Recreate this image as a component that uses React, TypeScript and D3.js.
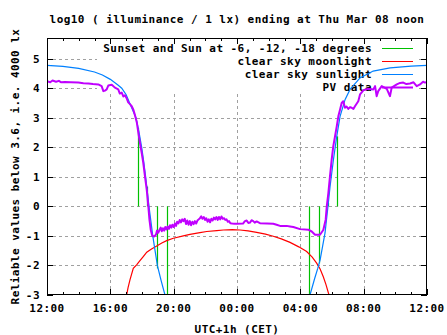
import React from "react";
import * as d3 from "d3";

// ---------- data (hours after 12:00 on the previous day, log10 lux) ----------
const xTickLabels = ["12:00", "16:00", "20:00", "00:00", "04:00", "08:00", "12:00"];
const xTickHours = [0, 4, 8, 12, 16, 20, 24];
const yTickValues = [-3, -2, -1, 0, 1, 2, 3, 4, 5];

const legendLabels = [
  "Sunset and Sun at -6, -12, -18 degrees",
  "clear sky moonlight",
  "clear sky sunlight",
  "PV data",
];
const seriesColors = ["#00c000", "#ff0000", "#0080ff", "#c000ff"];

// sunset / twilight markers: [hour, value reached from 0]
const sunEvents: [number, number][] = [
  [5.77, 2.66], [6.3, 0.67], [6.93, -2.1], [7.56, -3.3],
  [16.57, -3.3], [17.2, -1.93], [17.77, 0.12], [18.34, 2.37],
];

const moonData: [number, number][] = [
  [5.03, -3], [5.12, -2.75], [5.24, -2.49], [5.45, -2.1], [5.66, -1.98], [5.87, -1.84],
  [6.08, -1.7], [6.3, -1.55], [6.6, -1.44], [6.93, -1.34], [7.25, -1.24], [7.56, -1.16],
  [7.98, -1.08], [8.61, -1.0], [9.03, -0.95], [9.66, -0.89], [10.09, -0.85], [10.72, -0.82],
  [11.14, -0.8], [11.7, -0.79], [12.19, -0.8], [12.7, -0.83], [13.24, -0.88], [13.8, -0.94],
  [14.29, -1.01], [14.8, -1.1], [15.35, -1.22], [15.9, -1.37], [16.4, -1.53], [16.75, -1.72],
  [17.03, -1.92], [17.25, -2.12], [17.45, -2.38], [17.62, -2.65], [17.81, -3],
];

const sunData: [number, number][] = [
  [0, 4.77], [1, 4.74], [2, 4.67], [3, 4.55], [3.5, 4.45], [4, 4.3], [4.5, 4.1],
  [4.72, 4.0], [5, 3.78], [5.3, 3.4], [5.62, 3.0], [5.8, 2.55], [5.98, 2.0], [6.1, 1.55],
  [6.23, 1.0], [6.44, 0], [6.68, -1], [6.97, -2], [7.2, -2.5], [7.45, -3],
  [16.61, -3], [16.9, -2.45], [17.1, -2.1], [17.25, -1.81], [17.56, -0.9], [17.77, 0.12],
  [17.88, 0.68], [18.09, 1.58], [18.3, 2.37], [18.51, 3.05], [18.83, 3.62], [19.14, 3.96],
  [19.77, 4.35], [20.6, 4.58], [21.67, 4.69], [23, 4.75], [24, 4.77],
];

const pvData: [number, number][] = [
  [0.0, 4.24], [0.2, 4.2], [0.35, 4.26], [0.57, 4.22], [0.75, 4.25], [0.9, 4.2],
  [1.14, 4.21], [1.5, 4.2], [1.98, 4.19], [2.3, 4.17], [2.61, 4.16], [2.9, 4.14],
  [3.24, 4.13], [3.45, 4.07], [3.56, 3.9], [3.66, 3.92], [3.77, 3.96], [3.87, 4.09],
  [4.09, 4.12], [4.29, 4.02], [4.5, 3.96], [4.6, 3.82], [4.72, 3.85], [4.82, 3.72],
  [4.92, 3.76], [5.03, 3.66], [5.13, 3.52], [5.24, 3.46], [5.35, 3.39], [5.45, 3.28],
  [5.56, 3.08], [5.67, 2.85], [5.77, 2.49], [5.87, 2.15], [5.98, 1.81], [6.08, 1.47],
  [6.19, 1.01], [6.3, 0.56], [6.4, 0.0], [6.47, -0.45], [6.55, -0.79], [6.65, -1.0],
  [6.76, -1.02], [6.88, -0.96], [6.95, -0.82], [7.03, -0.89], [7.1, -0.8], [7.18, -0.72],
  [7.25, -0.84], [7.32, -0.74], [7.4, -0.82], [7.47, -0.7], [7.55, -0.78], [7.62, -0.68],
  [7.7, -0.76], [7.77, -0.64], [7.85, -0.72], [7.92, -0.62], [8.0, -0.7], [8.08, -0.58],
  [8.15, -0.66], [8.22, -0.52], [8.3, -0.58], [8.38, -0.46], [8.46, -0.54], [8.54, -0.44],
  [8.62, -0.5], [8.7, -0.42], [8.78, -0.6], [8.86, -0.48], [8.94, -0.62], [9.02, -0.5],
  [9.1, -0.64], [9.18, -0.52], [9.26, -0.6], [9.34, -0.5], [9.42, -0.58], [9.5, -0.48],
  [9.58, -0.44], [9.66, -0.4], [9.74, -0.34], [9.82, -0.42], [9.9, -0.36], [9.98, -0.46],
  [10.06, -0.4], [10.14, -0.52], [10.22, -0.44], [10.3, -0.54], [10.38, -0.42], [10.46, -0.48],
  [10.54, -0.38], [10.62, -0.44], [10.7, -0.36], [10.78, -0.46], [10.86, -0.36], [10.94, -0.44],
  [11.02, -0.34], [11.1, -0.42], [11.18, -0.4], [11.26, -0.46], [11.34, -0.44], [11.42, -0.52],
  [11.5, -0.5], [11.58, -0.57], [11.7, -0.58], [11.85, -0.59], [12.0, -0.59], [12.38, -0.58],
  [12.5, -0.5], [12.61, -0.48], [12.72, -0.56], [12.82, -0.55], [12.92, -0.47], [13.01, -0.49],
  [13.12, -0.55], [13.24, -0.51], [13.45, -0.57], [13.9, -0.58], [14.29, -0.59], [14.5, -0.62],
  [14.72, -0.66], [15.14, -0.66], [15.35, -0.68], [15.56, -0.7], [15.98, -0.77], [16.5, -0.79],
  [16.72, -0.85], [16.93, -0.96], [17.24, -0.96], [17.45, -0.8], [17.6, -0.45], [17.67, 0],
  [17.77, 0.45], [17.87, 1.01], [17.98, 1.58], [18.08, 2.03], [18.19, 2.37], [18.3, 2.71],
  [18.4, 3.05], [18.51, 3.28], [18.61, 3.5], [18.71, 3.56], [18.82, 3.34], [18.92, 3.38],
  [19.03, 3.3], [19.14, 3.36], [19.24, 3.34], [19.35, 3.3], [19.45, 3.39], [19.66, 3.56],
  [19.77, 3.79], [19.98, 3.93], [20.29, 3.98], [20.61, 3.96], [20.72, 4.07], [20.82, 3.73],
  [20.92, 3.9], [21.14, 4.07], [21.46, 3.98], [21.66, 3.73], [21.77, 4.02], [22.09, 4.13],
  [22.3, 4.18], [22.5, 4.19], [22.7, 4.14], [22.93, 4.16], [23.15, 4.2], [23.35, 4.07],
  [23.56, 4.13], [23.75, 4.22], [23.87, 4.19], [24, 4.2],
];

// ---------- layout ----------
const W = 447;
const H = 335;
const L = 47;
const R = 427;
const T = 38;
const B = 295;
const FONT = "'DejaVu Sans Mono', monospace";

export default function App() {
  const x = d3.scaleLinear().domain([0, 24]).range([L, R]);
  const y = d3.scaleLinear().domain([-3, 5.7]).range([B, T]);
  const line = d3
    .line<[number, number]>()
    .x((d) => x(d[0]))
    .y((d) => y(d[1]));

  const minorHours = d3.range(0, 25, 1);
  const gridY = yTickValues.filter((v) => v > -3);
  const gridX = xTickHours.filter((h) => h > 0 && h < 24);

  const keyTop = T + 0.5;
  const keyBottom = 92;
  const keyLeft = 97;
  const keyRight = 419;
  const rowY = (i: number) => 48.3 + i * 12.8;

  const textStyle: React.CSSProperties = {
    fontFamily: FONT,
    fontWeight: "bold",
    fontSize: 11,
    letterSpacing: "0.45px",
  };

  return (
    <svg width={W} height={H} style={{ display: "block", position: "absolute", left: 0, top: 0, background: "#fff" }}>
      <defs>
        <clipPath id="plotClip">
          <rect x={L} y={T} width={R - L} height={B - T} />
        </clipPath>
      </defs>
      <rect x={0} y={0} width={W} height={H} fill="#fff" />

      {/* grid */}
      <g stroke="#a0a0a0" strokeWidth={1} strokeDasharray="3,3" shapeRendering="crispEdges">
        {gridY.map((v) => (
          <line key={"gy" + v} x1={L} x2={R} y1={Math.round(y(v)) + 0.5} y2={Math.round(y(v)) + 0.5} />
        ))}
        {gridX.map((h) => (
          <line key={"gx" + h} x1={Math.round(x(h)) + 0.5} x2={Math.round(x(h)) + 0.5} y1={B} y2={T} />
        ))}
      </g>

      {/* opaque key area */}
      <rect x={keyLeft} y={keyTop} width={keyRight - keyLeft} height={keyBottom - keyTop} fill="#fff" />

      {/* key */}
      <g style={textStyle}>
        {legendLabels.map((lab, i) => (
          <g key={lab}>
            <text x={372} y={rowY(i) + 4} textAnchor="end" fill="#000">
              {lab}
            </text>
            <line
              x1={382}
              x2={413}
              y1={Math.round(rowY(i)) + 0.5}
              y2={Math.round(rowY(i)) + 0.5}
              stroke={seriesColors[i]}
              strokeWidth={i === 3 ? 2 : 1}
            />
          </g>
        ))}
      </g>

      {/* data */}
      <g clipPath="url(#plotClip)" fill="none">
        {sunEvents.map(([h, v], i) => (
          <line
            key={"se" + i}
            x1={Math.round(x(h)) + 0.5}
            x2={Math.round(x(h)) + 0.5}
            y1={y(0)}
            y2={y(v)}
            stroke={seriesColors[0]}
            strokeWidth={1.2}
          />
        ))}
        <path d={line(moonData) || ""} stroke={seriesColors[1]} strokeWidth={1.2} />
        <path d={line(sunData) || ""} stroke={seriesColors[2]} strokeWidth={1.2} />
        <path d={line(pvData) || ""} stroke={seriesColors[3]} strokeWidth={2} strokeLinejoin="round" />
      </g>

      {/* border and ticks */}
      <g stroke="#000" strokeWidth={1} shapeRendering="crispEdges">
        <rect x={L + 0.5} y={T + 0.5} width={R - L - 1} height={B - T - 1} fill="none" />
        {minorHours.map((h) => {
          const len = h % 4 === 0 ? 6 : 3;
          const xx = Math.round(x(h)) + 0.5;
          return (
            <g key={"xt" + h}>
              <line x1={xx} x2={xx} y1={B} y2={B - len} />
              <line x1={xx} x2={xx} y1={T} y2={T + len} />
            </g>
          );
        })}
        {yTickValues.map((v) => {
          const yy = Math.round(y(v)) + 0.5;
          return (
            <g key={"yt" + v}>
              <line x1={L} x2={L + 6} y1={yy} y2={yy} />
              <line x1={R} x2={R - 6} y1={yy} y2={yy} />
            </g>
          );
        })}
      </g>

      {/* tick labels */}
      <g style={textStyle} fill="#000">
        {yTickValues.map((v) => (
          <text key={"yl" + v} x={40} y={y(v) + 4} textAnchor="end">
            {String(v).replace("-", "-")}
          </text>
        ))}
        {xTickHours.map((h, i) => (
          <text key={"xl" + i} x={x(h)} y={312} textAnchor="middle">
            {xTickLabels[i]}
          </text>
        ))}
        <text x={(L + R) / 2} y={23} textAnchor="middle">
          log10 ( illuminance / 1 lx) ending at Thu Mar 08 noon
        </text>
        <text x={(L + R) / 2} y={333} textAnchor="middle">
          UTC+1h (CET)
        </text>
        <text transform={`translate(18.5, ${(T + B) / 2}) rotate(-90)`} textAnchor="middle">
          Reliable values below 3.6, i.e. 4000 lx
        </text>
      </g>
    </svg>
  );
}
